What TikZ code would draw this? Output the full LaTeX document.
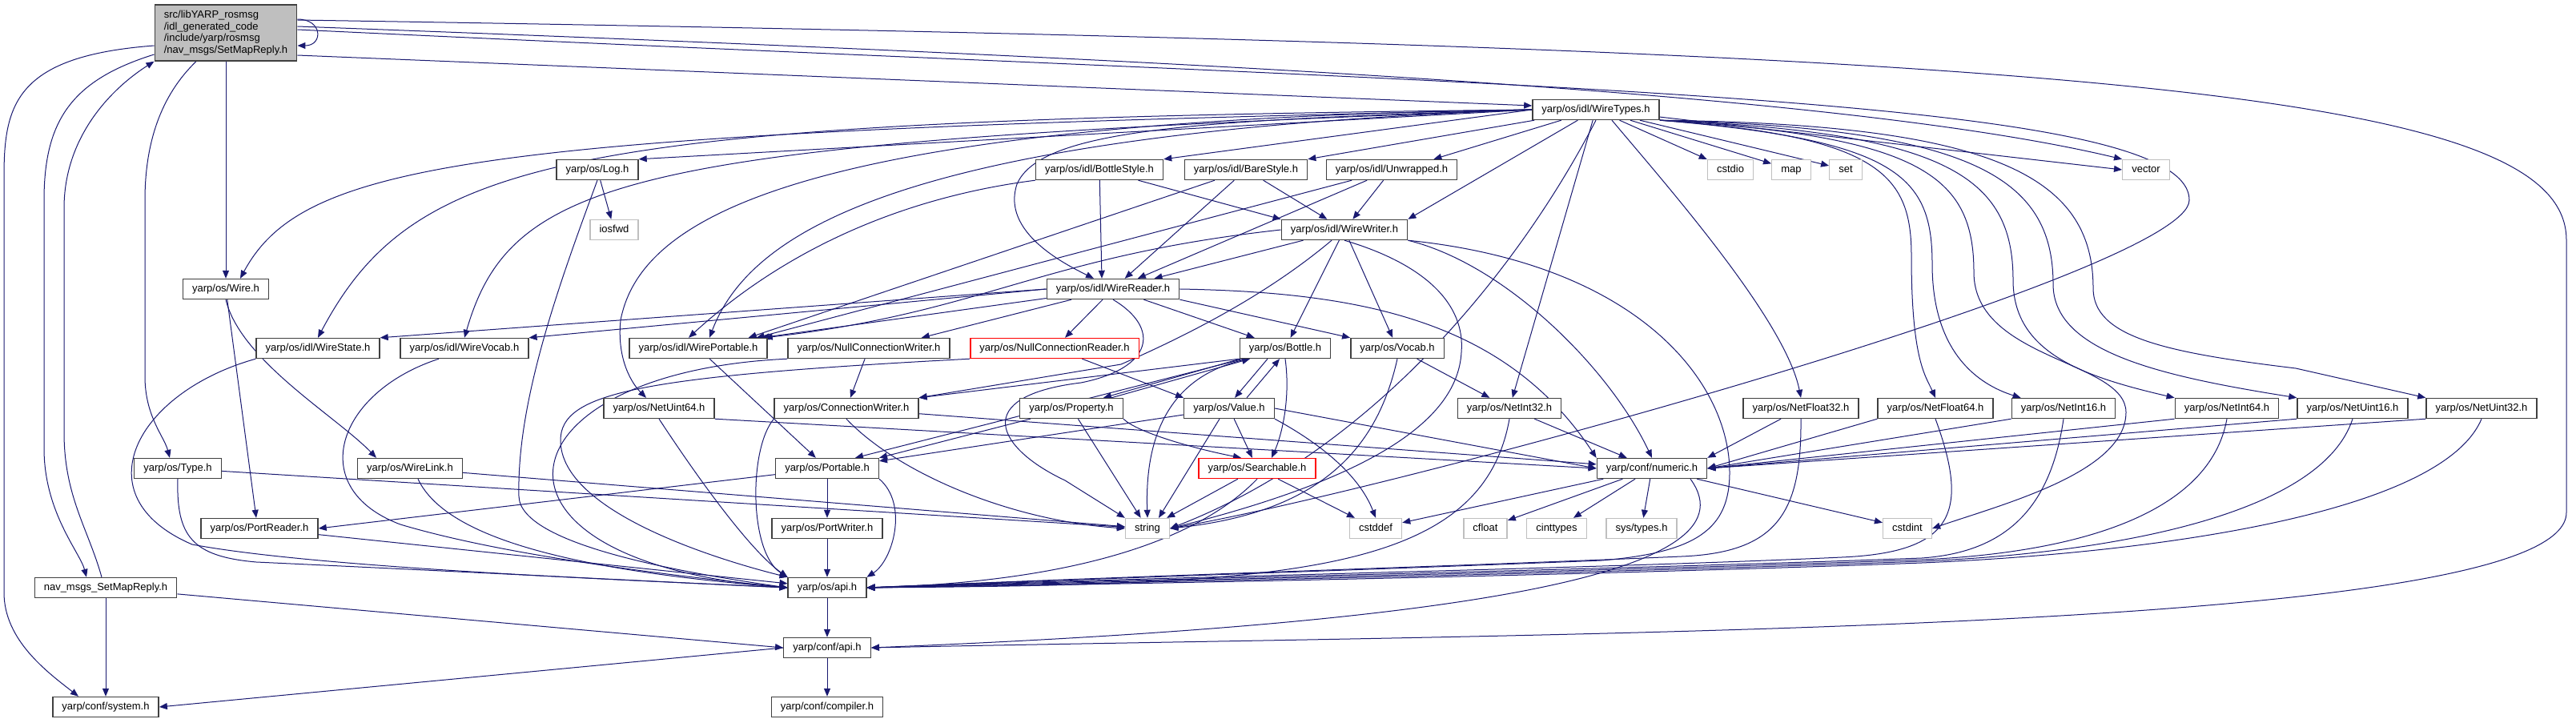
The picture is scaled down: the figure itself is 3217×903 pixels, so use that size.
\documentclass[tikz,border=0pt]{standalone}
\usepackage{fontspec}
\setmainfont{Liberation Sans}
\usetikzlibrary{arrows.meta,backgrounds}
\definecolor{edgeblue}{RGB}{25,25,112}
\definecolor{sysgray}{RGB}{191,191,191}
\definecolor{hdrgray}{RGB}{64,64,64}
\newcommand{\hdrfont}{\fontsize{6.5}{7.35}\selectfont}

\begin{document}
\begin{tikzpicture}[
  x=0.5pt, y=-0.5pt,
  basebox/.style={draw=hdrgray, line width=0.7pt, fill=white, font=\hdrfont, inner xsep=5.8pt},
  hdr/.style={basebox, inner ysep=0pt, minimum height=12.5pt, text height=4.8pt, text depth=1.4pt},
  sys/.style={hdr, draw=sysgray},
  trunc/.style={hdr, draw=red},
  mainbox/.style={basebox, fill=sysgray, align=left, inner ysep=3.2pt, minimum height=35pt},
  dep/.style={draw=edgeblue, line width=0.5pt, -{Triangle[length=5pt,width=4pt]}}
]
\useasboundingbox (0,0) rectangle (3217,903);

% headers, row by row
\node[mainbox] (main) at (282,41) {src/libYARP\_rosmsg\\/idl\_generated\_code\\/include/yarp/rosmsg\\/nav\_msgs/SetMapReply.h};
\node[hdr] (wiretypes) at (1993,137) {yarp/os/idl/WireTypes.h};
\node[hdr] (log) at (746,212) {yarp/os/Log.h};
\node[hdr] (bottlestyle) at (1373,212) {yarp/os/idl/BottleStyle.h};
\node[hdr] (barestyle) at (1556,212) {yarp/os/idl/BareStyle.h};
\node[hdr] (unwrapped) at (1738,212) {yarp/os/idl/Unwrapped.h};
\node[sys] (cstdio) at (2161,212) {cstdio};
\node[sys] (map) at (2237,212) {map};
\node[sys] (set) at (2305,212) {set};
\node[sys] (vector) at (2680,212) {vector};
\node[sys] (iosfwd) at (767,287) {iosfwd};
\node[hdr] (wirewriter) at (1679,287) {yarp/os/idl/WireWriter.h};
\node[hdr] (wire) at (282,361) {yarp/os/Wire.h};
\node[hdr] (wirereader) at (1390,361) {yarp/os/idl/WireReader.h};
\node[hdr] (wirestate) at (397,435) {yarp/os/idl/WireState.h};
\node[hdr] (wirevocab) at (580,435) {yarp/os/idl/WireVocab.h};
\node[hdr] (wireportable) at (872,435) {yarp/os/idl/WirePortable.h};
\node[hdr] (nullcw) at (1085,435) {yarp/os/NullConnectionWriter.h};
\node[trunc] (nullcr) at (1317,435) {yarp/os/NullConnectionReader.h};
\node[hdr] (bottle) at (1605,435) {yarp/os/Bottle.h};
\node[hdr] (vocab) at (1745,435) {yarp/os/Vocab.h};
\node[hdr] (netuint64) at (823,510) {yarp/os/NetUint64.h};
\node[hdr] (connwriter) at (1057,510) {yarp/os/ConnectionWriter.h};
\node[hdr] (property) at (1338,510) {yarp/os/Property.h};
\node[hdr] (value) at (1535,510) {yarp/os/Value.h};
\node[hdr] (netint32) at (1885,510) {yarp/os/NetInt32.h};
\node[hdr] (netfloat32) at (2249,510) {yarp/os/NetFloat32.h};
\node[hdr] (netfloat64) at (2417,510) {yarp/os/NetFloat64.h};
\node[hdr] (netint16) at (2577,510) {yarp/os/NetInt16.h};
\node[hdr] (netint64) at (2781,510) {yarp/os/NetInt64.h};
\node[hdr] (netuint16) at (2938,510) {yarp/os/NetUint16.h};
\node[hdr] (netuint32) at (3099,510) {yarp/os/NetUint32.h};
\node[hdr] (type) at (222,585) {yarp/os/Type.h};
\node[hdr] (wirelink) at (512,585) {yarp/os/WireLink.h};
\node[hdr] (portable) at (1033,585) {yarp/os/Portable.h};
\node[trunc] (searchable) at (1570,585) {yarp/os/Searchable.h};
\node[hdr] (numeric) at (2063,585) {yarp/conf/numeric.h};
\node[hdr] (portreader) at (324,660) {yarp/os/PortReader.h};
\node[hdr] (portwriter) at (1033,660) {yarp/os/PortWriter.h};
\node[sys] (string) at (1433,660) {string};
\node[sys] (cstddef) at (1718,660) {cstddef};
\node[sys] (cfloat) at (1855,660) {cfloat};
\node[sys] (cinttypes) at (1944,660) {cinttypes};
\node[sys] (systypes) at (2050,660) {sys/types.h};
\node[sys] (cstdint) at (2382,660) {cstdint};
\node[hdr] (navmsgs) at (132,734) {nav\_msgs\_SetMapReply.h};
\node[hdr] (osapi) at (1033,734) {yarp/os/api.h};
\node[hdr] (confapi) at (1033,809) {yarp/conf/api.h};
\node[hdr] (system) at (132,883) {yarp/conf/system.h};
\node[hdr] (compiler) at (1033,883) {yarp/conf/compiler.h};

\begin{scope}[on background layer]
% main header
\draw[dep] ([yshift=8.5pt]main.east) .. controls +(16pt,0pt) and +(16pt,0pt) .. ([yshift=-8pt]main.east);
\draw[dep] ([yshift=-8pt]main.west) .. controls (20,70) and (5,130) .. (5,220) -- (5,740) .. controls (5,800) and (60,840) .. ([xshift=-17pt]system.north);
\draw[dep] ([yshift=-13.5pt]main.west) .. controls (90,100) and (55,150) .. (55,250) -- (55,560) .. controls (55,640) and (100,690) .. ([xshift=-12pt]navmsgs.north);
\draw[dep] ([xshift=-2.5pt]navmsgs.north) .. controls (110,660) and (80,620) .. (80,540) -- (80,260) .. controls (80,170) and (140,110) .. (main.south west);
\draw[dep] ([xshift=-18.5pt]main.south) .. controls (200,120) and (181,180) .. (181,250) -- (181,470) .. controls (181,520) and (205,545) .. ([xshift=-5pt]type.north);
\draw[dep] (main) -- (wire);
\draw[dep] ([yshift=-14pt]main.east) -- ([yshift=2.5pt]wiretypes.west);
\draw[dep] ([yshift=4pt]main.east) .. controls (1500,75) and (2300,115) .. (vector.north west);
\draw[dep] ([yshift=8pt]main.east) .. controls (2600,60) and (3205,110) .. (3205,300) -- (3205,640) .. controls (3205,790) and (2000,790) .. (confapi.east);
\draw[dep] ([yshift=2pt]main.east) .. controls (1900,110) and (2734,115) .. (2734,250) .. controls (2734,340) and (1750,610) .. (string.east);
\draw[dep] (navmsgs) -- (system);
\draw[dep] (navmsgs) -- (confapi.west);

% WireTypes.h
\draw[dep] (wiretypes.west) -- (log.north east);
\draw[dep] (wiretypes.west) .. controls (600,165) and (380,200) .. ([xshift=9pt]wire.north);
\draw[dep] (wiretypes.west) .. controls (720,150) and (520,190) .. (wirestate.north);
\draw[dep] (wiretypes.west) .. controls (800,178) and (640,215) .. (wirevocab.north);
\draw[dep] (wiretypes.west) .. controls (1150,165) and (940,280) .. ([xshift=7pt]wireportable.north);
\draw[dep] (wiretypes.west) .. controls (1500,150) and (1300,160) .. (1270,230) .. controls (1250,290) and (1330,330) .. ([xshift=-12pt]wirereader.north);
\draw[dep] (wiretypes.west) .. controls (1000,150) and (800,270) .. (775,400) .. controls (770,450) and (790,480) .. ([xshift=-8pt]netuint64.north);
\draw[dep] (wiretypes.west) -- (bottlestyle.north east);
\draw[dep] (wiretypes) -- (barestyle.north east);
\draw[dep] (wiretypes) -- ([xshift=-15pt]unwrapped.north east);
\draw[dep] (wiretypes) -- (wirewriter.north east);
\draw[dep] (wiretypes) -- (cstdio);
\draw[dep] (wiretypes) -- (map);
\draw[dep] (wiretypes) -- (set);
\draw[dep] (wiretypes) -- (vector.west);
\draw[dep] (wiretypes) -- (netint32);
\draw[dep] (wiretypes.south) .. controls (1900,330) and (1720,560) .. (string.east);
\draw[dep] ([xshift=10pt]wiretypes.south) .. controls (2080,230) and (2230,400) .. (netfloat32.north);
\draw[dep] (wiretypes.south east) .. controls (2350,170) and (2387,220) .. (2387,320) .. controls (2387,450) and (2405,470) .. (netfloat64.north);
\draw[dep] (wiretypes.south east) .. controls (2370,175) and (2413,220) .. (2413,330) .. controls (2413,440) and (2470,480) .. ([xshift=6pt]netint16.north west);
\draw[dep] (wiretypes.south east) .. controls (2400,170) and (2465,220) .. (2465,340) .. controls (2465,450) and (2655,450) .. (2655,515) .. controls (2655,590) and (2500,630) .. (cstdint.east);
\draw[dep] (wiretypes.south east) .. controls (2430,165) and (2514,220) .. (2514,350) .. controls (2514,440) and (2600,470) .. (netint64.north west);
\draw[dep] (wiretypes.south east) .. controls (2460,160) and (2564,220) .. (2564,355) .. controls (2564,440) and (2700,470) .. (netuint16.north west);
\draw[dep] (wiretypes.south east) .. controls (2490,155) and (2614,220) .. (2614,360) .. controls (2614,420) and (2700,440) .. (2867,460) -- (netuint32.north west);

% idl styles
\draw[dep] (bottlestyle.south west) .. controls (1100,250) and (960,330) .. ([xshift=-6pt]wireportable.north);
\draw[dep] (bottlestyle) -- ([xshift=-7pt]wirereader.north);
\draw[dep] (bottlestyle) -- (wirewriter.north west);
\draw[dep] (barestyle) -- ([xshift=-12pt]wireportable.north east);
\draw[dep] (barestyle) -- (wirereader);
\draw[dep] (barestyle) -- (wirewriter);
\draw[dep] (unwrapped) -- ([xshift=-7pt]wireportable.north east);
\draw[dep] (unwrapped) -- (wirereader);
\draw[dep] (unwrapped) -- (wirewriter);

% WireWriter.h
\draw[dep] (wirewriter.west) .. controls (1300,320) and (1230,390) .. ([xshift=-2pt]wireportable.north east);
\draw[dep] (wirewriter) -- (wirereader);
\draw[dep] (wirewriter) -- (bottle);
\draw[dep] (wirewriter) -- (vocab);
\draw[dep] ([xshift=-8pt]wirewriter.south) .. controls (1580,370) and (1480,420) .. (1400,455) -- (connwriter.north east);
\draw[dep] (wirewriter.south) .. controls (1780,330) and (1830,380) .. (1825,440) .. controls (1820,530) and (1700,600) .. (string.east);
\draw[dep] (wirewriter.south east) .. controls (1880,330) and (2010,460) .. (numeric.north);
\draw[dep] (wirewriter.south east) .. controls (2050,330) and (2160,480) .. (2160,590) .. controls (2160,660) and (2120,690) .. (2000,700) .. controls (1700,712) and (1300,725) .. (osapi.east);

% WireReader.h
\draw[dep] (wirereader.west) -- (wirestate.north east);
\draw[dep] (wirereader.west) -- (wirevocab.north east);
\draw[dep] (wirereader) -- ([xshift=-4pt]wireportable.north east);
\draw[dep] (wirereader) -- ([xshift=-18pt]nullcw.north east);
\draw[dep] (wirereader) -- (nullcr);
\draw[dep] (wirereader) -- (bottle);
\draw[dep] (wirereader.south east) -- (vocab.north west);
\draw[dep] (wirereader.south) .. controls (1450,410) and (1440,460) .. (1350,478) .. controls (1210,495) and (1245,560) .. (1330,600) -- (string.north west);
\draw[dep] (wirereader.east) .. controls (1700,365) and (1880,400) .. (numeric.north west);

% connection headers
\draw[dep] (nullcw) -- (connwriter);
\draw[dep] (nullcw.south west) .. controls (620,465) and (570,700) .. (osapi.west);
\draw[dep] (nullcr) -- (value.north west);
\draw[dep] (nullcr.south west) .. controls (800,470) and (700,490) .. (700,550) .. controls (700,640) and (900,700) .. (osapi.north west);
\draw[dep] (wireportable) -- (portable);
\draw[dep] (connwriter.south west) .. controls (935,560) and (935,690) .. (osapi.north west);
\draw[dep] (connwriter.south) .. controls (1120,590) and (1260,650) .. (string.west);
\draw[dep] (connwriter) -- (numeric);

% left side
\draw[dep] (wire) -- ([xshift=-2pt]portreader.north);
\draw[dep] (wire.south) .. controls (300,450) and (420,520) .. ([xshift=-21pt]wirelink.north);
\draw[dep] (log) -- (iosfwd);
\draw[dep] (log.south) .. controls (700,350) and (645,500) .. (648,620) .. controls (650,680) and (850,715) .. (osapi.west);
\draw[dep] (wirestate.south west) .. controls (170,490) and (100,620) .. (240,680) .. controls (400,710) and (800,725) .. (osapi.west);
\draw[dep] ([xshift=-16pt]wirevocab.south) .. controls (420,490) and (380,610) .. (500,655) .. controls (650,700) and (900,725) .. (osapi.west);
\draw[dep] (type) -- (string);
\draw[dep] (type.south) .. controls (220,670) and (240,695) .. (320,702) .. controls (600,715) and (850,728) .. (osapi.west);
\draw[dep] (wirelink) -- (string);
\draw[dep] ([xshift=5pt]wirelink.south) .. controls (560,680) and (750,715) .. (osapi.west);
\draw[dep] (portreader) -- (osapi);
\draw[dep] (portable) -- (portreader.east);
\draw[dep] (portable) -- (portwriter);
\draw[dep] (portable.south east) .. controls (1135,630) and (1115,700) .. (osapi.north east);
\draw[dep] (portwriter) -- (osapi);
\draw[dep] (netuint64.south east) -- (numeric.west);
\draw[dep] (netuint64.south) .. controls (880,610) and (940,690) .. (osapi.north west);

% Bottle, Property, Value, Searchable, Vocab
\draw[dep] (bottle.south west) -- (connwriter.north east);
\draw[dep] (bottle) -- ([xshift=-15pt]portable.north east);
\draw[dep] ([xshift=-28pt]bottle.south) -- ([xshift=20pt]property.north);
\draw[dep] ([xshift=25pt]property.north) -- ([xshift=-22pt]bottle.south);
\draw[dep] ([xshift=-11pt]bottle.south) -- ([xshift=3.5pt]value.north);
\draw[dep] ([xshift=11pt]value.north) -- ([xshift=-3.5pt]bottle.south);
\draw[dep] (bottle.south) .. controls (1612,500) and (1600,545) .. ([xshift=9pt]searchable.north);
\draw[dep] ([xshift=-23pt]bottle.south) .. controls (1450,470) and (1430,560) .. (string.north);
\draw[dep] (property) -- (portable.north east);
\draw[dep] (property.south east) .. controls (1420,540) and (1490,560) .. ([xshift=-10pt]searchable.north);
\draw[dep] (property) -- (string);
\draw[dep] ([yshift=-4pt]value.west) -- ([yshift=-2pt]portable.north east);
\draw[dep] ([xshift=-6pt]value.south) -- ([xshift=7pt]string.north);
\draw[dep] (value) -- (searchable);
\draw[dep] (value.south east) .. controls (1660,560) and (1700,600) .. (cstddef.north);
\draw[dep] (value.east) -- (numeric.west);
\draw[dep] (searchable) -- (string);
\draw[dep] (searchable) -- (cstddef);
\draw[dep] (searchable.south) .. controls (1520,650) and (1400,725) .. (osapi.east);
\draw[dep] (vocab.south) .. controls (1720,560) and (1650,640) .. (string.east);
\draw[dep] (vocab) -- (netint32);

% Net types
\draw[dep] (netint32) -- (numeric);
\draw[dep] (netfloat32) -- (numeric.north east);
\foreach \dst in {netfloat64,netint16,netint64,netuint16,netuint32}
  \draw[dep] (\dst.south west) -- (numeric.east);
\draw[dep] (netint32.south) .. controls (1850,720) and (1600,730) .. (osapi.east);
\draw[dep] (netfloat32.south) .. controls (2250,640) and (2220,690) .. (2100,695) .. controls (1800,708) and (1400,720) .. (osapi.east);
\draw[dep] (netfloat64.south) .. controls (2460,640) and (2440,690) .. (2300,696) .. controls (2000,710) and (1400,722) .. (osapi.east);
\draw[dep] (netint16.south) .. controls (2560,640) and (2500,690) .. (2400,697) .. controls (2000,712) and (1400,724) .. (osapi.east);
\draw[dep] (netint64.south) .. controls (2760,640) and (2600,690) .. (2400,699) .. controls (2000,714) and (1400,726) .. (osapi.east);
\draw[dep] (netuint16.south) .. controls (2900,640) and (2650,690) .. (2400,701) .. controls (2000,716) and (1400,728) .. (osapi.east);
\draw[dep] (netuint32.south) .. controls (3050,640) and (2700,690) .. (2400,703) .. controls (2000,718) and (1400,730) .. (osapi.east);

% numeric and api
\foreach \dst in {cstddef,cfloat,cinttypes,systypes,cstdint}
  \draw[dep] (numeric) -- (\dst);
\draw[dep] ([xshift=24pt]numeric.south) .. controls (2200,720) and (1800,780) .. (confapi.east);
\draw[dep] (osapi) -- (confapi);
\draw[dep] (confapi) -- (compiler);
\draw[dep] (confapi.west) -- (system.east);
\end{scope}
\end{tikzpicture}
\end{document}
